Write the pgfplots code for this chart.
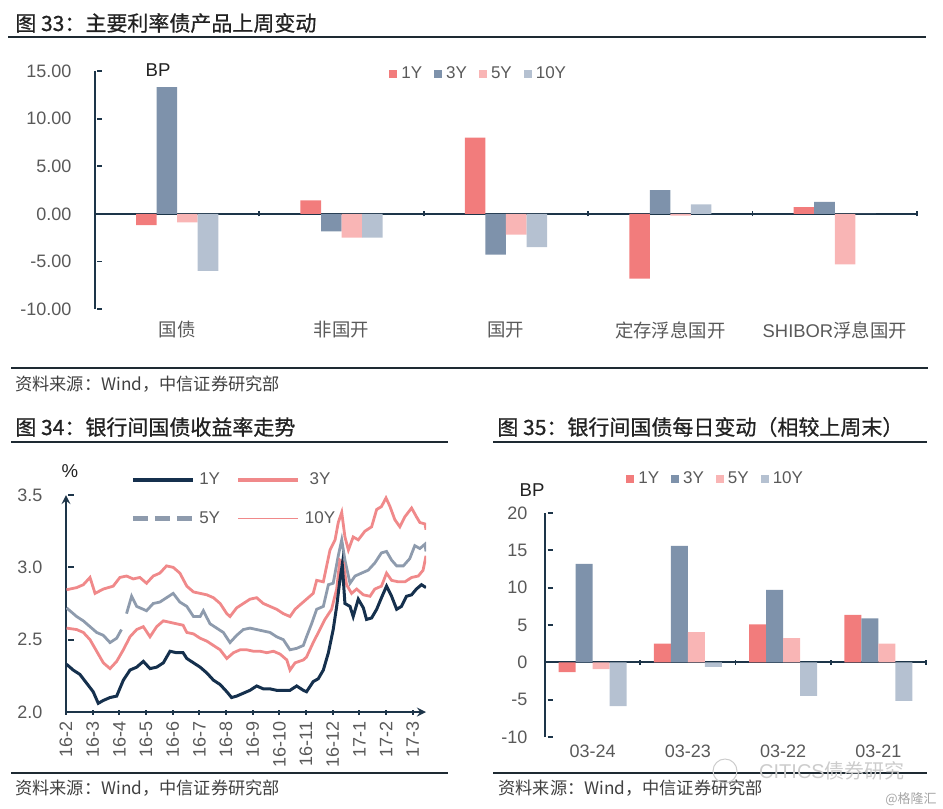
\documentclass[border=0pt]{standalone}
\usepackage{fontspec}
\setmainfont{Liberation Sans}
\newfontfamily\cjk{Noto Sans CJK SC}
\newfontfamily\cjkt{Noto Sans CJK SC}[FakeBold=0.8]
\usepackage{pgfplots}
\pgfplotsset{compat=1.18}

\definecolor{axc}{HTML}{1D3549}
\definecolor{rulec}{HTML}{1E2A32}
\definecolor{tickc}{HTML}{595959}
\definecolor{titc}{HTML}{222222}
\definecolor{srcc}{HTML}{404040}
\definecolor{c1}{HTML}{F27C7C}
\definecolor{c3}{HTML}{7E92AB}
\definecolor{c5}{HTML}{F9B5B5}
\definecolor{c10}{HTML}{B5C1D1}
\definecolor{navyc}{HTML}{15304D}
\definecolor{pinkc}{HTML}{F0898A}
\definecolor{grayc}{HTML}{8E9BAD}

\tikzset{
  catA/.style={anchor=center, yshift=-10.5pt, font=\fontsize{9.2}{10}\selectfont, text=tickc},
  catB/.style={anchor=center, yshift=-7pt, font=\fontsize{9}{10}\selectfont, text=tickc},
}

\pgfplotsset{
  base/.style={
    scale only axis,
    axis line style={-, line width=1pt, axc},
    tick align=outside,
    major tick length=2.5pt,
    tick style={axc, line width=0.9pt},
    ytick style={xshift=2.5pt},
    ticklabel style={font=\fontsize{9}{10}\selectfont, text=tickc},
    /pgf/number format/assume math mode=true,
    legend style={draw=none, fill=none, inner sep=0pt, font=\fontsize{8.5}{10}\selectfont, text=tickc},
  },
  bars/.style={
    base, clip=false,
    axis y line=left, axis x line=middle,
    every inner x axis line/.append style={-},
    every outer x axis line/.append style={-},
    every inner y axis line/.append style={-},
    every outer y axis line/.append style={-},
    x axis line style={-}, y axis line style={-},
    xticklabel=\empty,
    legend columns=4,
    legend image code/.code={\fill[##1] (0pt,-2pt) rectangle (4pt,2pt);},
    legend style={/tikz/every even column/.append style={column sep=4pt}},
  },
}

\begin{document}
\begin{tikzpicture}

% ---- chart 33 ----
\begin{axis}[bars, at={(47.5pt,-154.5pt)}, anchor=south west,
  width=411pt, height=119pt,
  xmin=-0.5, xmax=4.5, ymin=-10, ymax=15,
  ytick={-10,-5,0,5,10,15},
  xtick={0.5,1.5,2.5,3.5,4.5},
  yticklabel style={xshift=-7pt, /pgf/number format/.cd, fixed, fixed zerofill, precision=2},
  bar width=0.125,
  legend style={at={(0.3577,0.987)}, anchor=west},
]
\addplot[ybar, fill=c1, draw=none, bar shift=-0.1875] coordinates {(0,-1.2) (1,1.4) (2,8.0) (3,-6.8) (4,0.7)};
\addplot[ybar, fill=c3, draw=none, bar shift=-0.0625] coordinates {(0,13.3) (1,-1.85) (2,-4.3) (3,2.5) (4,1.25)};
\addplot[ybar, fill=c5, draw=none, bar shift=0.0625] coordinates {(0,-0.9) (1,-2.5) (2,-2.2) (3,-0.2) (4,-5.3)};
\addplot[ybar, fill=c10, draw=none, bar shift=0.1875] coordinates {(0,-6.0) (1,-2.5) (2,-3.5) (3,1.0) (4,0)};
\legend{1Y,3Y,5Y,10Y}
\node[catA] at (axis cs:0,-10) {\cjk 国债};
\node[catA] at (axis cs:1,-10) {\cjk 非国开};
\node[catA] at (axis cs:2,-10) {\cjk 国开};
\node[catA] at (axis cs:3,-10) {\cjk 定存浮息国开};
\node[catA] at (axis cs:4,-10) {SHIBOR{\cjk 浮息国开}};
\end{axis}

% ---- chart 34 ----
\begin{axis}[base, at={(33pt,-356pt)}, anchor=south west,
  width=180pt, height=108.5pt,
  axis x line=bottom, axis y line=left,
  xmin=0, xmax=13.5, ymin=2, ymax=3.5,
  ytick={2,2.5,3,3.5},
  yticklabel style={xshift=-7pt, /pgf/number format/.cd, fixed, fixed zerofill, precision=1},
  xtick={0,...,13},
  xticklabels={16-2,16-3,16-4,16-5,16-6,16-7,16-8,16-9,16-10,16-11,16-12,17-1,17-2,17-3},
  xticklabel style={rotate=90, anchor=east},
  unbounded coords=jump,
  legend columns=2,
  legend image code/.code={\draw[#1] (0pt,0pt) -- (30pt,0pt);},
  legend style={at={(0.178,0.98)}, anchor=west,
    /tikz/every even column/.append style={column sep=6pt},
    /tikz/row sep=8pt},
]
\addlegendimage{color=navyc, line width=2.4pt}\addlegendentry{1Y}
\addlegendimage{color=pinkc, line width=2.4pt}\addlegendentry{3Y}
\addlegendimage{color=grayc, line width=2.4pt, dash pattern=on 7.5pt off 3.5pt}\addlegendentry{5Y}
\addlegendimage{color=pinkc, line width=0.5pt}\addlegendentry{10Y}
% 10Y
\addplot[forget plot, color=pinkc, line width=1.4pt] coordinates {
(0.02,2.845)(0.40,2.86)(0.65,2.88)(0.90,2.93)(1.09,2.82)(1.40,2.85)(1.77,2.87)(2.02,2.93)(2.27,2.94)(2.52,2.92)(2.77,2.93)(3.02,2.89)(3.27,2.94)(3.52,2.96)(3.77,3.01)(4.02,3.00)(4.27,2.96)(4.53,2.87)(4.78,2.83)(5.03,2.82)(5.28,2.81)(5.53,2.79)(5.78,2.75)(6.03,2.68)(6.15,2.66)(6.40,2.72)(6.65,2.75)(6.90,2.78)(7.15,2.79)(7.40,2.75)(7.65,2.73)(7.90,2.71)(8.15,2.68)(8.40,2.66)(8.59,2.71)(8.77,2.74)(9.02,2.78)(9.27,2.82)(9.40,2.91)(9.65,2.90)(9.90,3.12)(10.09,3.19)(10.21,3.31)(10.34,3.38)(10.46,3.21)(10.59,3.12)(10.77,3.21)(10.96,3.19)(11.21,3.25)(11.46,3.28)(11.65,3.40)(11.83,3.42)(12.00,3.48)(12.15,3.42)(12.33,3.33)(12.52,3.28)(12.71,3.35)(12.96,3.41)(13.14,3.35)(13.27,3.31)(13.46,3.30)(13.5,3.26)};
% 5Y
\addplot[forget plot, color=grayc, line width=1.4pt] coordinates {
(0.02,2.72)(0.40,2.66)(0.65,2.63)(0.90,2.59)(1.15,2.55)(1.40,2.53)(1.65,2.48)(1.90,2.51)(2.08,2.57)(2.17,nan)(2.27,2.68)(2.46,2.80)(2.65,2.73)(3.02,2.70)(3.27,2.75)(3.52,2.76)(3.77,2.79)(4.02,2.82)(4.27,2.76)(4.53,2.73)(4.78,2.66)(5.03,2.66)(5.15,2.70)(5.40,2.61)(5.65,2.58)(5.90,2.55)(6.15,2.48)(6.40,2.53)(6.65,2.57)(6.90,2.58)(7.15,2.57)(7.40,2.56)(7.65,2.55)(7.90,2.52)(8.15,2.50)(8.40,2.43)(8.65,2.44)(8.90,2.46)(9.02,2.52)(9.21,2.61)(9.40,2.71)(9.65,2.73)(9.84,2.88)(10.02,2.89)(10.21,3.08)(10.34,3.19)(10.46,3.05)(10.65,2.89)(10.84,2.94)(11.08,2.96)(11.33,2.98)(11.58,3.03)(11.83,3.10)(12.02,3.11)(12.21,3.05)(12.40,3.01)(12.65,3.01)(12.89,3.06)(13.08,3.15)(13.27,3.13)(13.46,3.16)(13.5,3.11)};
% 3Y
\addplot[forget plot, color=pinkc, line width=1.4pt] coordinates {
(0.02,2.58)(0.40,2.57)(0.65,2.55)(0.90,2.50)(1.15,2.42)(1.40,2.34)(1.65,2.30)(1.90,2.35)(2.15,2.43)(2.40,2.52)(2.65,2.57)(2.90,2.59)(3.15,2.52)(3.40,2.59)(3.65,2.63)(3.90,2.62)(4.14,2.61)(4.39,2.60)(4.53,2.55)(4.78,2.54)(5.03,2.51)(5.28,2.49)(5.53,2.46)(5.78,2.43)(6.03,2.37)(6.28,2.41)(6.53,2.43)(6.78,2.43)(7.03,2.42)(7.28,2.42)(7.53,2.41)(7.78,2.42)(8.03,2.40)(8.28,2.36)(8.40,2.29)(8.59,2.34)(8.90,2.36)(9.02,2.38)(9.27,2.48)(9.52,2.57)(9.71,2.64)(9.96,2.71)(10.15,2.85)(10.27,3.05)(10.40,3.03)(10.52,2.88)(10.71,2.82)(10.90,2.85)(11.15,2.81)(11.40,2.80)(11.58,2.85)(11.83,2.87)(12.02,2.96)(12.21,2.91)(12.46,2.90)(12.71,2.90)(12.96,2.93)(13.21,2.94)(13.39,2.98)(13.5,3.08)};
% 1Y
\addplot[forget plot, color=navyc, line width=1.5pt] coordinates {
(0.02,2.33)(0.27,2.29)(0.52,2.26)(0.77,2.20)(1.02,2.14)(1.21,2.06)(1.40,2.08)(1.65,2.10)(1.90,2.11)(2.15,2.22)(2.40,2.29)(2.65,2.31)(2.90,2.35)(3.15,2.30)(3.40,2.31)(3.65,2.34)(3.90,2.42)(4.14,2.41)(4.39,2.41)(4.53,2.37)(4.78,2.34)(5.03,2.31)(5.28,2.27)(5.53,2.22)(5.78,2.19)(6.03,2.14)(6.21,2.10)(6.40,2.11)(6.65,2.13)(6.90,2.15)(7.15,2.18)(7.40,2.16)(7.65,2.16)(7.90,2.15)(8.15,2.15)(8.40,2.15)(8.65,2.18)(8.90,2.15)(9.02,2.14)(9.27,2.21)(9.46,2.23)(9.65,2.29)(9.84,2.41)(10.02,2.57)(10.15,2.73)(10.27,2.91)(10.36,3.02)(10.46,2.75)(10.65,2.73)(10.77,2.66)(10.96,2.78)(11.15,2.72)(11.27,2.64)(11.46,2.65)(11.65,2.71)(11.83,2.79)(12.02,2.87)(12.21,2.80)(12.40,2.71)(12.58,2.73)(12.77,2.80)(12.96,2.81)(13.14,2.85)(13.33,2.88)(13.5,2.86)};
\end{axis}

% ---- chart 35 ----
\begin{axis}[bars, at={(272.5pt,-368.5pt)}, anchor=south west,
  width=190.5pt, height=112pt,
  xmin=-0.5, xmax=3.5, ymin=-10, ymax=20,
  ytick={-10,-5,0,5,10,15,20},
  xtick={0.5,1.5,2.5,3.5},
  yticklabel style={xshift=-4pt},
  bar width=0.1785,
  legend style={at={(0.2126,1.152)}, anchor=west},
]
\addplot[ybar, fill=c1, draw=none, bar shift=-0.2678] coordinates {(0,-1.3) (1,2.5) (2,5.1) (3,6.35)};
\addplot[ybar, fill=c3, draw=none, bar shift=-0.0893] coordinates {(0,13.2) (1,15.6) (2,9.7) (3,5.9)};
\addplot[ybar, fill=c5, draw=none, bar shift=0.0893] coordinates {(0,-0.9) (1,4.05) (2,3.25) (3,2.5)};
\addplot[ybar, fill=c10, draw=none, bar shift=0.2678] coordinates {(0,-5.85) (1,-0.6) (2,-4.5) (3,-5.15)};
\legend{1Y,3Y,5Y,10Y}
\node[catB] at (axis cs:0,-10) {03-24};
\node[catB] at (axis cs:1,-10) {03-23};
\node[catB] at (axis cs:2,-10) {03-22};
\node[catB] at (axis cs:3,-10) {03-21};
\end{axis}

% ---- titles, rules, notes (pixel units) ----
\begin{scope}[x=0.5pt, y=-0.5pt]
\useasboundingbox (0,0) rectangle (943,809);
\tikzset{
  tit/.style={anchor=west, inner sep=0pt, text=titc, font=\cjkt\fontsize{10.5}{12}\selectfont},
  src/.style={anchor=west, inner sep=0pt, text=srcc, font=\cjk\fontsize{8.6}{10}\selectfont},
  unit/.style={inner sep=0pt, text=titc, font=\fontsize{9.3}{10}\selectfont},
}
\node[tit] at (15,23) {图 33：主要利率债产品上周变动};
\draw[rulec, line width=1pt] (8,37) -- (926,37);
\draw[rulec, line width=1pt] (11,368) -- (928,368);
\node[src] at (15,384) {资料来源：Wind，中信证券研究部};

\node[tit] at (15,427) {图 34：银行间国债收益率走势};
\draw[rulec, line width=0.6pt] (11,442) -- (448,442);
\draw[rulec, line width=0.6pt] (11,773) -- (448,773);
\node[src] at (15,788) {资料来源：Wind，中信证券研究部};

\node[tit] at (497,427) {图 35：银行间国债每日变动（相较上周末）};
\draw[rulec, line width=0.6pt] (493,442) -- (927,442);
\draw[rulec, line width=0.6pt] (493,773) -- (927,773);
\node[src] at (498,788) {资料来源：Wind，中信证券研究部};

\node[unit] at (158,70) {BP};
\node[unit] at (70,471) {\%};
\node[unit] at (532,490) {BP};

\node[inner sep=0pt, text=gray!40, font=\fontsize{10}{12}\selectfont] at (832,771) {CITICS{\cjk 债券研究}};
\draw[gray!40, line width=0.5pt] (725,771) circle (12);
\node[anchor=east, inner sep=0pt, text=gray!70, font=\cjk\fontsize{6.5}{8}\selectfont] at (937,799) {@格隆汇};
\end{scope}

\end{tikzpicture}
\end{document}
